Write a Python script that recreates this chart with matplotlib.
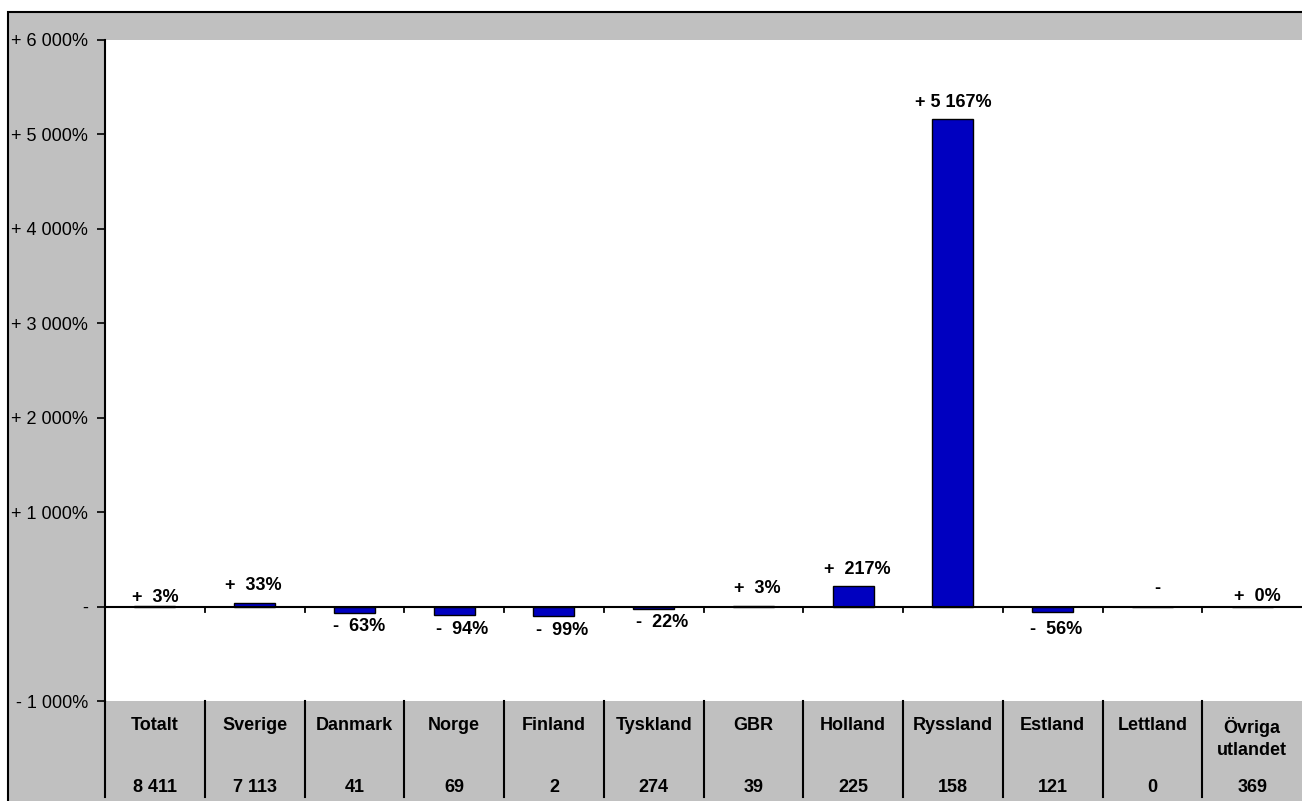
import matplotlib
matplotlib.use("Agg")
import matplotlib.pyplot as plt
import matplotlib.transforms as mtransforms
from matplotlib.patches import Rectangle

# ---- data ----
categories = ["Totalt", "Sverige", "Danmark", "Norge", "Finland", "Tyskland",
              "GBR", "Holland", "Ryssland", "Estland", "Lettland", "Övriga\nutlandet"]
counts = ["8 411", "7 113", "41", "69", "2", "274", "39", "225", "158", "121", "0", "369"]
change_pct = [3, 33, -63, -94, -99, -22, 3, 217, 5167, -56, None, 0]
y_ticks = [-1000, 0, 1000, 2000, 3000, 4000, 5000, 6000]

# label offsets in pixels (dx, dy away from the bar end)
label_dx = [0, -1, 5, 8, 8, 9, 4, 4, 0, 4, 5, 5]
label_dy = [9, 18, 14, 14, 15, 14, 18, 17, 16, 18, 18, 10]

FONT = "Liberation Sans"
GRAY = "#C0C0C0"
BLUE = "#0000C0"
FS = 13

W, H = 1302, 801
fig = plt.figure(figsize=(W / 100, H / 100), dpi=100)
fig.patch.set_facecolor("white")

# outer gray chart area with black border
fig.patches.append(Rectangle((8 / W, -0.05), 1.1, (H - 12) / H + 0.05,
                             transform=fig.transFigure, facecolor=GRAY,
                             edgecolor="black", linewidth=1.5, zorder=-10))

ax_left, ax_right, ax_top, ax_bot = 105, 1302, 40, 701
ax = fig.add_axes([ax_left / W, (H - ax_bot) / H, (ax_right - ax_left) / W,
                   (ax_bot - ax_top) / H])
ax.set_facecolor("white")

n = len(categories)
x = list(range(n))
vals = [v if v is not None else 0 for v in change_pct]
ax.bar(x, vals, width=0.41, color=BLUE, edgecolor="black", linewidth=1.0, zorder=3)

ax.set_xlim(-0.5, n - 0.5)
ax.set_ylim(-1000, 6000)


def fmt_tick(v):
    if v == 0:
        return "-"
    s = f"{abs(v):,}".replace(",", " ")
    return ("+ " if v > 0 else "- ") + s + "%"


ax.set_yticks(y_ticks)
ax.set_yticklabels([fmt_tick(v) for v in y_ticks], fontname=FONT, fontsize=FS)
ax.tick_params(axis="y", direction="out", length=6, width=1.2, pad=6, colors="black")
ax.set_xticks([])
for s in ["top", "right", "bottom"]:
    ax.spines[s].set_visible(False)
ax.spines["left"].set_linewidth(1.5)

# zero line
ax.axhline(0, color="black", linewidth=1.5, zorder=4)

blend = mtransforms.blended_transform_factory(ax.transData, ax.transAxes)
blend_ax = ax.transAxes
ppx = 1 / (ax_bot - ax_top)  # one pixel in axes fraction
# ticks between categories on zero line and separators in the table area
for b in [i + 0.5 for i in range(n - 1)]:
    ax.plot([b, b], [0, -55], color="black", linewidth=1.3, zorder=4)
    ax.plot([b, b], [0, -96 * ppx], transform=blend, color="black",
            linewidth=1.5, clip_on=False)
# left axis line extending into the table area
ax.plot([0, 0], [0, -96 * ppx], transform=blend_ax, color="black",
        linewidth=1.5, clip_on=False)

# category labels and counts
for i, (c, cnt) in enumerate(zip(categories, counts)):
    ax.text(i, -16 * ppx, c, transform=blend, ha="center", va="top",
            fontname=FONT, fontsize=FS, fontweight="bold", linespacing=1.4)
    ax.text(i, -86 * ppx, cnt, transform=blend, ha="center", va="center",
            fontname=FONT, fontsize=FS, fontweight="bold")


def fmt_label(v):
    if v is None:
        return "-"
    sign = "+" if v >= 0 else "-"
    a = abs(v)
    if a >= 1000:
        return f"{sign} {a:,}%".replace(",", " ")
    return f"{sign}  {a}%"


for i, v in enumerate(change_pct):
    y = 0 if v is None else v
    dy = label_dy[i] if (v is None or v >= 0) else -label_dy[i]
    ax.annotate(fmt_label(v), xy=(i, y), xytext=(label_dx[i] * 0.72, dy * 0.72),
                textcoords="offset points", ha="center", va="center",
                fontname=FONT, fontsize=FS, fontweight="bold", zorder=5)

fig.savefig("out.png", dpi=100, facecolor=fig.get_facecolor())
